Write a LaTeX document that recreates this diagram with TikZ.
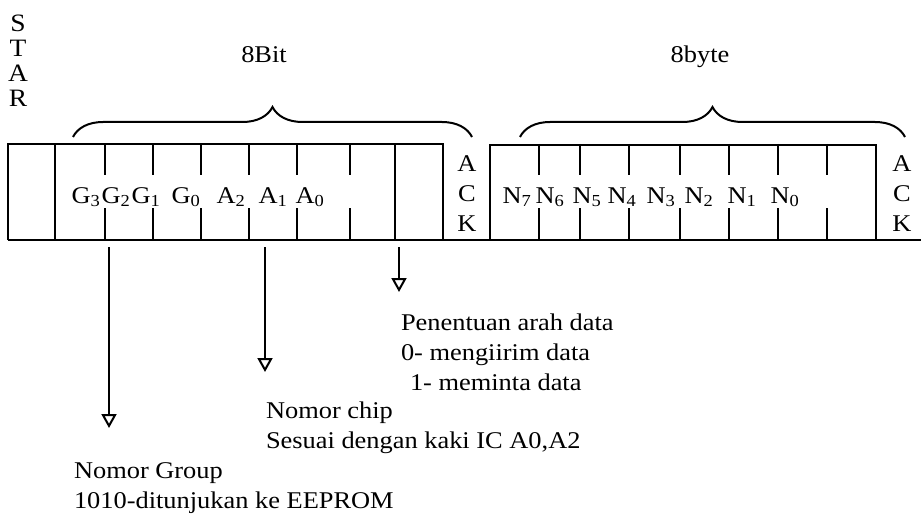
\documentclass[tikz,border=0pt]{standalone}
\usepackage{fontspec}
\setmainfont{Liberation Serif}[FakeStretch=1.1]
\usetikzlibrary{arrows.meta, decorations.pathreplacing}

\begin{document}
\begin{tikzpicture}[x=1pt, y=-1pt, line width=2pt,
    >={Triangle[open, length=14pt, width=15pt]},
    lbl/.style={font=\fontsize{24}{30}\selectfont, inner sep=0pt},
    brc/.style={decorate, decoration={brace, amplitude=30pt}}]
  \useasboundingbox (0,0) rectangle (921,516);

  % 1. Frame of the two fields, common bottom line
  \draw (8,240) -- (921,240);
  \draw (8,240) -- (8,144) -- (443,144) -- (443,240);
  \draw (55,144) -- (55,240);
  \draw (395,144) -- (395,240);
  \draw (490,240) -- (490,145) -- (876,145) -- (876,240);

  % 2. Short ticks top and bottom, gap left for the bit names
  \foreach \x in {105,153,201,249,297,350,539,580,629,680,729,778,827} {
    \draw (\x,144) -- (\x,175);
    \draw (\x,208) -- (\x,240);
  }

  % 3. Bit names
  \foreach \x/\sym/\idx in {86/G/3, 116/G/2, 146/G/1, 186/G/0, 231/A/2, 273/A/1, 310/A/0,
      517/N/7, 550/N/6, 587/N/5, 622/N/4, 661/N/3, 699/N/2, 742/N/1, 785/N/0} {
    \node[lbl, anchor=base] (bit\sym\idx) at (\x,203) {\sym\textsubscript{\idx}};
  }

  % 4. Braces with their labels
  \draw[brc] (73,137) -- (472,137);
  \draw[brc] (520,137) -- (905,137);
  \node[lbl, anchor=base] (bitlbl) at (264,63) {8Bit};
  \node[lbl, anchor=base] (bytelbl) at (700,63) {8byte};

  % 5. Start and acknowledge letters
  \node[lbl, font=\fontsize{25}{25}\selectfont, align=center, anchor=north] (star) at (18,14) {S\\T\\A\\R};
  \node[lbl, align=center, anchor=north] (ack1) at (467,155) {A\\C\\K};
  \node[lbl, align=center, anchor=north] (ack2) at (902,155) {A\\C\\K};

  % 6. Notes below the frame
  \node[lbl, align=left, anchor=north west] (arah) at (400,313)
    {Penentuan arah data\\0- mengiirim data\\\hspace{9pt}1- meminta data};
  \node[lbl, align=left, anchor=north west] (chip) at (265,401)
    {Nomor chip\\Sesuai dengan kaki IC A0,A2};
  \node[lbl, align=left, anchor=north west] (grup) at (73,462)
    {Nomor Group\\1010-ditunjukan ke EEPROM};

  % 7. Arrows from the fields to the notes
  \coordinate (grp-s) at (109,247);
  \coordinate (grp-e) at (109,428);
  \coordinate (chip-s) at (265,247);
  \coordinate (chip-e) at (265,372);
  \coordinate (arah-s) at (399,247);
  \coordinate (arah-e) at (399,292);
  \draw[->] (grp-s) -- (grp-e);
  \draw[->] (chip-s) -- (chip-e);
  \draw[->] (arah-s) -- (arah-e);

\end{tikzpicture}
\end{document}
